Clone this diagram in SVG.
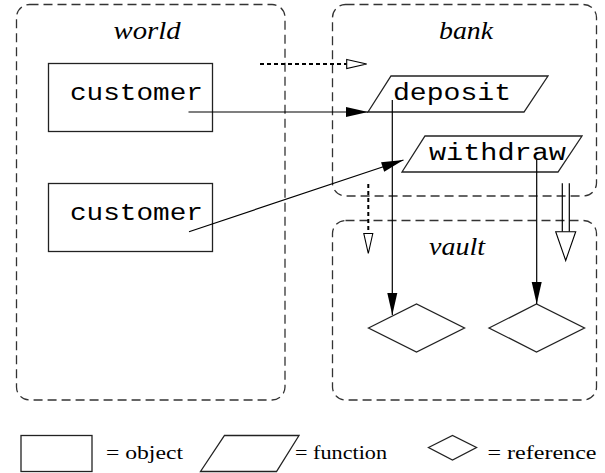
<svg xmlns="http://www.w3.org/2000/svg" width="605" height="473" viewBox="0 0 605 473">
<style>
.cont{fill:none;stroke:#333;stroke-width:1.3;stroke-dasharray:9 5}
.node{fill:#fff;stroke:#222;stroke-width:1.3}
.ttl{font-family:"Liberation Serif",serif;font-style:italic;font-size:26px;fill:#000}
.mono{font-family:"Liberation Mono",monospace;font-size:23px;fill:#000}
.leg{font-family:"Liberation Serif",serif;font-size:18px;fill:#000}
.ln{fill:none;stroke:#000;stroke-width:1.2}
.dot{fill:none;stroke:#000;stroke-width:2;stroke-dasharray:4 3}
</style>
<defs>
<marker id="filled" markerUnits="userSpaceOnUse" markerWidth="22" markerHeight="10" refX="22" refY="5" orient="auto" overflow="visible">
<path d="M0,0 L22,5 L0,10 z" fill="#000" stroke="none"/>
</marker>
<marker id="open" markerUnits="userSpaceOnUse" markerWidth="20" markerHeight="9" refX="0" refY="4.5" orient="auto" overflow="visible">
<path d="M0,0 L20,4.5 L0,9 z" fill="#fff" stroke="#000" stroke-width="1.1"/>
</marker>
</defs>

<g id="world">
<rect class="cont" x="16.5" y="4.5" width="268.5" height="395.5" rx="13"/>
<text class="ttl" x="147" y="39" text-anchor="middle" textLength="67" lengthAdjust="spacingAndGlyphs">world</text>
</g>
<g id="bank">
<rect class="cont" x="332.5" y="4.5" width="264" height="191.5" rx="13"/>
<text class="ttl" x="466" y="39" text-anchor="middle" textLength="54" lengthAdjust="spacingAndGlyphs">bank</text>
</g>
<g id="vault">
<rect class="cont" x="332.5" y="220.5" width="264" height="179.5" rx="13"/>
<text class="ttl" x="457" y="255" text-anchor="middle" textLength="56" lengthAdjust="spacingAndGlyphs">vault</text>
</g>

<g id="customer1">
<rect class="node" x="48.5" y="63.5" width="164" height="68"/>
<text class="mono" x="70" y="100" textLength="133" lengthAdjust="spacingAndGlyphs">customer</text>
</g>
<g id="customer2">
<rect class="node" x="48.5" y="183.5" width="164" height="68"/>
<text class="mono" x="70" y="220" textLength="133" lengthAdjust="spacingAndGlyphs">customer</text>
</g>
<g id="deposit">
<polygon class="node" points="391,76 548,76 524,112 368,112"/>
<text class="mono" x="393" y="100" textLength="118" lengthAdjust="spacingAndGlyphs">deposit</text>
</g>
<g id="withdraw">
<polygon class="node" points="425,136 582,136 558,172 402,172"/>
<text class="mono" x="429" y="160" textLength="137" lengthAdjust="spacingAndGlyphs">withdraw</text>
</g>
<g id="ref1">
<polygon class="node" points="368.5,328 416.5,304 464.5,328 416.5,352"/>
</g>
<g id="ref2">
<polygon class="node" points="489,328 536.5,304 584.5,328 536.5,352"/>
</g>

<g id="connectors">
<line class="dot" x1="260" y1="64" x2="346.7" y2="64" marker-end="url(#open)"/>
<line class="ln" x1="188.5" y1="112" x2="368" y2="112" marker-end="url(#filled)"/>
<line class="ln" x1="189" y1="231.7" x2="403.5" y2="160" marker-end="url(#filled)"/>
<line class="ln" x1="392.3" y1="100" x2="392.3" y2="315" marker-end="url(#filled)"/>
<line class="ln" x1="536.7" y1="160" x2="536.7" y2="304" marker-end="url(#filled)"/>
<line class="dot" x1="368.3" y1="184" x2="368.3" y2="233.5" marker-end="url(#open)"/>
<line class="ln" x1="562.3" y1="183.3" x2="562.3" y2="231.7"/>
<line class="ln" x1="569.3" y1="183.3" x2="569.3" y2="231.7"/>
<polygon points="555.7,231.7 575.7,231.7 565.7,260.5" fill="#fff" stroke="#000" stroke-width="1.1"/>
</g>

<g id="legend">
<rect class="node" x="21" y="435.5" width="71" height="36"/>
<text class="leg" x="106" y="459" textLength="77" lengthAdjust="spacingAndGlyphs">= object</text>
<polygon class="node" points="224.5,435.5 299,435.5 276.5,471.5 200.5,471.5"/>
<text class="leg" x="295" y="459" textLength="92" lengthAdjust="spacingAndGlyphs">= function</text>
<polygon class="node" points="428.5,447.5 452.5,435.5 476.5,447.5 452.5,460"/>
<text class="leg" x="487.5" y="459" textLength="109" lengthAdjust="spacingAndGlyphs">= reference</text>
</g>
</svg>
